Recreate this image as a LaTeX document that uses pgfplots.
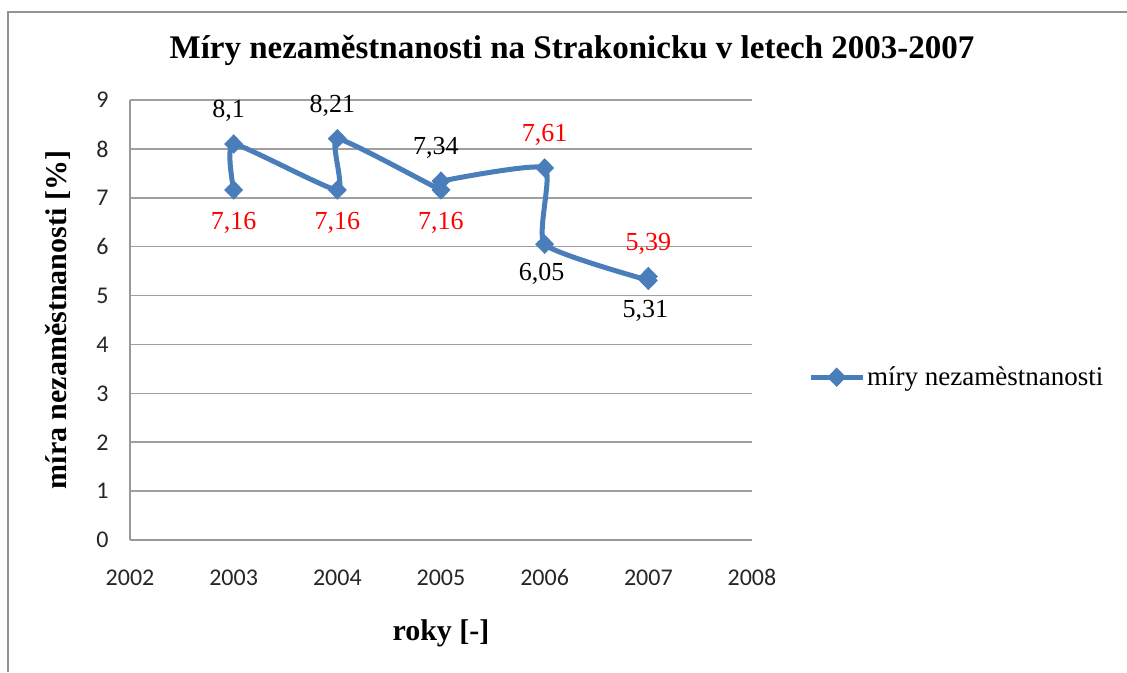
\documentclass[border=0pt]{standalone}
\usepackage{fontspec}
\setmainfont{Liberation Serif}
\newfontfamily\carlito{Carlito}
\usepackage{pgfplots}
\pgfplotsset{compat=1.18}
\definecolor{exblue}{RGB}{74,126,187}
\begin{document}
\begin{tikzpicture}[x=1pt,y=1pt]
\useasboundingbox (0,0) rectangle (1127,-672);
\fill[white] (0,0) rectangle (1127,-672);
\draw[gray!85, line width=2.5pt] (8,-672) -- (8,-12) -- (1127,-12);
\node[font=\fontsize{33}{38}\selectfont\bfseries] at (572,-50) {Míry nezaměstnanosti na Strakonicku v letech 2003-2007};
\begin{axis}[
  at={(130pt,-540pt)}, anchor=south west,
  scale only axis, width=622pt, height=440pt,
  xmin=2002, xmax=2008, ymin=0, ymax=9,
  xtick={2002,2003,...,2008}, ytick={0,1,...,9},
  /pgf/number format/1000 sep={},
  /pgf/number format/assume math mode=true,
  axis x line*=bottom, axis y line*=left,
  axis line style={-, gray!80, line width=1.5pt},
  major tick length=0pt,
  ymajorgrids, grid style={gray!75, line width=1.5pt},
  ticklabel style={font=\carlito\fontsize{24}{28}\selectfont, text=black!85},
  xticklabel style={yshift=-26pt},
  yticklabel style={xshift=-18pt},
  xlabel={roky [-]}, ylabel={míra nezaměstnanosti [\%]},
  label style={font=\fontsize{30}{34}\selectfont\bfseries},
  xlabel style={at={(axis description cs:0.5,-0.211)}, anchor=center},
  ylabel style={at={(axis description cs:-0.116,0.5)}, anchor=center},
  legend style={at={(axis description cs:1.09,0.37)}, anchor=west, draw=none, fill=none,
    font=\fontsize{27}{32}\selectfont, inner sep=0pt},
  legend cell align=left,
  legend image code/.code={\draw[mark repeat=2, mark phase=2, #1] plot coordinates {(0pt,0pt) (26pt,0pt) (52pt,0pt)};},
  clip=false,
]
\addplot[color=exblue, line width=5pt, smooth, tension=0.3, mark=diamond*, mark size=9pt, mark options={solid, line width=1pt, xscale=1.3}]
  coordinates {(2003,7.16) (2003,8.1) (2004,7.16) (2004,8.21) (2005,7.16) (2005,7.34) (2006,7.61) (2006,6.05) (2007,5.31) (2007,5.39)};
\addlegendentry{míry nezamèstnanosti}
% red labels below
\addplot[draw=none, mark=none, forget plot, nodes near coords, point meta=explicit symbolic,
  nodes near coords style={anchor=center, yshift=-33pt, text=red, font=\fontsize{26}{30}\selectfont}]
  table[meta=label] {
x y label
2003 7.16 7,16
2004 7.16 7,16
2005 7.16 7,16
};
% red labels above
\addplot[draw=none, mark=none, forget plot, nodes near coords, point meta=explicit symbolic,
  nodes near coords style={anchor=center, yshift=33pt, text=red, font=\fontsize{26}{30}\selectfont}]
  table[meta=label] {
x y label
2006 7.61 7,61
2007 5.39 5,39
};
% black labels above
\addplot[draw=none, mark=none, forget plot, nodes near coords, point meta=explicit symbolic,
  nodes near coords style={anchor=center, yshift=33pt, xshift=-5pt, text=black, font=\fontsize{26}{30}\selectfont}]
  table[meta=label] {
x y label
2003 8.1 8,1
2004 8.21 8,21
2005 7.34 7,34
};
% black labels below
\addplot[draw=none, mark=none, forget plot, nodes near coords, point meta=explicit symbolic,
  nodes near coords style={anchor=center, yshift=-30pt, xshift=-3pt, text=black, font=\fontsize{26}{30}\selectfont}]
  table[meta=label] {
x y label
2006 6.05 6,05
2007 5.31 5,31
};
\end{axis}
\end{tikzpicture}
\end{document}
